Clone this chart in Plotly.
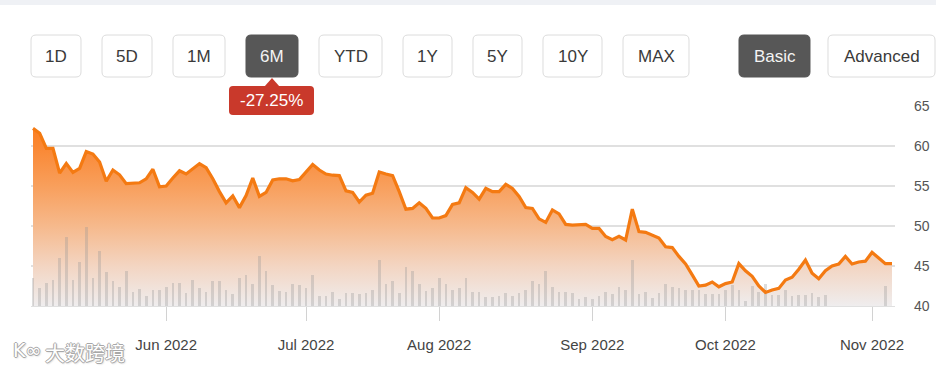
import plotly.graph_objects as go
import pandas as pd

# ---------------- data ----------------
holidays = ["2022-05-30", "2022-06-20", "2022-07-04", "2022-09-05"]
dates = [d for d in pd.bdate_range("2022-05-03", "2022-11-04")
         if d.strftime("%Y-%m-%d") not in holidays]

close = [
    62.2, 61.6, 59.7, 59.7, 56.6, 57.8, 56.7, 57.2, 59.3, 59.0,
    58.0, 55.6, 57.0, 56.4, 55.3, 55.3, 55.4, 55.9, 57.1, 54.9,
    55.0, 56.0, 56.9, 56.5, 57.2, 57.8, 57.3, 55.9, 54.3, 52.9,
    53.75, 52.3, 53.8, 56.0, 53.7, 54.2, 55.75, 55.9, 55.9, 55.65,
    55.8, 56.8, 57.7, 57.0, 56.5, 56.35, 56.3, 54.4, 54.2, 53.0,
    53.85, 54.1, 56.75, 56.5, 56.3, 54.3, 52.1, 52.2, 52.9, 52.2,
    51.0, 51.0, 51.3, 52.7, 52.9, 54.8, 54.2, 53.35, 54.7, 54.3,
    54.3, 55.2, 54.7, 53.7, 52.3, 52.2, 50.9, 50.45, 52.0, 51.5,
    50.2, 50.1, 50.1, 50.2, 49.7, 49.7, 48.7, 48.3, 48.7, 48.25,
    52.1, 49.3, 49.2, 48.9, 48.5, 47.4, 47.3, 46.2, 45.25, 43.9,
    42.5, 42.6, 43.0, 42.4, 42.8, 43.0, 45.3, 44.4, 43.7, 42.5,
    41.7, 42.0, 42.2, 43.25, 43.6, 44.6, 45.75, 44.1, 43.4, 44.4,
    45.0, 45.25, 46.2, 45.25, 45.5, 45.6, 46.7, 46.0, 45.3, 45.3,
]

# volume (millions of shares); None = no volume reported
volume = [
    2.8, 1.8, 2.3, 2.6, 4.8, 6.9, 2.6, 4.4, 7.9, 2.8,
    5.5, 3.4, 2.5, 1.9, 3.5, 1.4, 1.7, 1.0, 1.6, 1.6,
    1.9, 2.3, 2.3, 1.3, 2.6, 1.8, 1.4, 2.5, 2.5, 1.6,
    1.2, 2.8, 3.1, 2.2, 5.0, 3.5, 2.1, 1.5, 1.4, 2.2,
    2.1, 1.8, 3.1, 1.0, 1.0, 1.4, 0.7, 1.3, 1.3, 1.2,
    1.3, 1.6, 4.6, 2.2, 2.5, 1.3, 3.9, 3.5, 2.2, 1.5,
    1.8, 2.8, 2.2, 1.6, 1.8, 2.8, 1.4, 1.4, 0.9, 0.9,
    1.0, 1.3, 1.0, 1.3, 1.6, 2.5, 2.2, 3.5, 1.9, 1.4,
    1.4, 1.3, 0.7, 0.9, 0.7, 1.0, 1.4, 1.2, 1.9, 1.6,
    4.6, 1.2, 1.4, 0.8, 1.3, 2.2, 1.9, 1.8, 1.6, 1.6,
    1.6, 1.2, 1.2, 1.2, 1.6, 2.1, 1.6, 0.5, 2.0, 1.4,
    2.2, 1.1, 1.1, 1.6, 1.0, 1.1, 1.1, 1.3, 0.9, 1.1,
    None, None, None, None, None, None, None, None, 2.0, None,
]

month_starts = ["2022-06-01", "2022-07-01", "2022-08-01", "2022-09-01", "2022-10-01", "2022-11-01"]
month_labels = ["Jun 2022", "Jul 2022", "Aug 2022", "Sep 2022", "Oct 2022", "Nov 2022"]
price_ticks = [40, 45, 50, 55, 60, 65]
range_buttons = ["1D", "5D", "1M", "6M", "YTD", "1Y", "5Y", "10Y", "MAX"]
mode_buttons = ["Basic", "Advanced"]
active = {"6M", "Basic"}
change_label = "-27.25%"

# ---------------- layout constants ----------------
W, H = 936, 375
PL, PR, PT, PB = 31, 895, 106, 306   # plot area in pixels
FONT = "Liberation Sans, Arial, sans-serif"

idx = list(range(len(dates)))
tick_pos = []
for ms in month_starts:
    m = pd.Timestamp(ms)
    tick_pos.append(max(i for i, d in enumerate(dates) if d <= m))


def px(x):
    return (x - PL) / (PR - PL)


def py(y):
    return (PB - y) / (PB - PT)


def rrect(x0, y0, x1, y1, r):
    pts = [
        ("M", [(x0 + r, y0)]), ("L", [(x1 - r, y0)]), ("Q", [(x1, y0), (x1, y0 + r)]),
        ("L", [(x1, y1 - r)]), ("Q", [(x1, y1), (x1 - r, y1)]),
        ("L", [(x0 + r, y1)]), ("Q", [(x0, y1), (x0, y1 - r)]),
        ("L", [(x0, y0 + r)]), ("Q", [(x0, y0), (x0 + r, y0)]),
    ]
    s = ""
    for cmd, pp in pts:
        s += cmd + " " + " ".join(f"{px(a):.5f},{py(b):.5f}" for a, b in pp) + " "
    return s + "Z"


fig = go.Figure()

fig.add_trace(go.Scatter(
    x=idx, y=close, mode="lines", line=dict(width=0), fill="tozeroy",
    fillgradient=dict(type="vertical", start=40, stop=63, colorscale=[
        [0.0, "#efedee"], [0.217, "#f3d5c2"], [0.435, "#f6b98c"],
        [0.652, "#f89f5c"], [0.87, "#fa8732"], [1.0, "#fb7c1c"]]),
    hoverinfo="skip", showlegend=False, yaxis="y"))

fig.add_trace(go.Bar(
    x=idx, y=volume, width=0.4, yaxis="y2",
    marker=dict(color="rgba(150,150,150,0.32)", line=dict(width=0)),
    hoverinfo="skip", showlegend=False))

fig.add_trace(go.Scatter(
    x=idx, y=close, mode="lines", line=dict(color="#f47a12", width=3.2),
    yaxis="y3", hoverinfo="skip", showlegend=False))

shapes = []
annotations = []

# top strip
shapes.append(dict(type="rect", xref="paper", yref="paper", x0=px(0), x1=px(W),
                   y0=py(0), y1=py(5), fillcolor="#eff1f5", line=dict(width=0)))

# buttons
btn_x = [(31, 81), (102, 152), (173, 225), (246, 298), (319, 382), (403, 452),
         (473, 522), (543, 602), (623, 689), (739, 810), (828, 935)]
for label, (x0, x1) in zip(range_buttons + mode_buttons, btn_x):
    on = label in active
    shapes.append(dict(type="path", xref="paper", yref="paper", path=rrect(x0, 35, x1, 77, 5),
                       fillcolor="#575757" if on else "#ffffff",
                       line=dict(color="#575757" if on else "#dcdcdc", width=1)))
    annotations.append(dict(text=label, xref="paper", yref="paper", x=px((x0 + x1) / 2), y=py(56.5),
                            showarrow=False, xanchor="center", yanchor="middle",
                            font=dict(family=FONT, size=17, color="#f4f4f4" if on else "#3a3a3a")))

# change badge
shapes.append(dict(type="path", xref="paper", yref="paper",
                   path=f"M {px(264.5)},{py(86.5)} L {px(272)},{py(78)} L {px(279.5)},{py(86.5)} Z",
                   fillcolor="#c9392b", line=dict(width=0)))
shapes.append(dict(type="path", xref="paper", yref="paper", path=rrect(229, 86, 314, 115, 4),
                   fillcolor="#c9392b", line=dict(width=0)))
annotations.append(dict(text=change_label, xref="paper", yref="paper", x=px(271.5), y=py(100.5),
                        showarrow=False, xanchor="center", yanchor="middle",
                        font=dict(family=FONT, size=17, color="#ffffff")))

# watermark
wm_shadow = ("1px 0px 0px #a8a8a8, -1px 0px 0px #a8a8a8, 0px 1px 0px #a8a8a8, "
             "0px -1px 0px #a8a8a8, 1px 1px 2px #b8b8b8")
annotations.append(dict(text="大数跨境", xref="paper", yref="paper", x=px(85), y=py(352),
                        showarrow=False, xanchor="center", yanchor="middle",
                        font=dict(family="Noto Sans CJK SC", size=20, color="#ffffff", shadow=wm_shadow)))
annotations.append(dict(text="K∞", xref="paper", yref="paper", x=px(27), y=py(350),
                        showarrow=False, xanchor="center", yanchor="middle",
                        font=dict(family="DejaVu Sans", size=19, color="#ffffff", shadow=wm_shadow)))

fig.update_layout(
    width=W, height=H,
    margin=dict(l=PL, r=W - PR, t=PT, b=H - PB, pad=0, autoexpand=False),
    paper_bgcolor="#ffffff", plot_bgcolor="#ffffff",
    showlegend=False, bargap=0,
    font=dict(family=FONT),
    xaxis=dict(range=[-0.3, 129.45], tickvals=tick_pos, ticktext=month_labels,
               ticks="outside", ticklen=14, tickwidth=1, tickcolor="#d2d2d2",
               showgrid=False, zeroline=False, showline=True, linecolor="#e0e0e0",
               tickfont=dict(size=15, color="#444444"), ticklabelstandoff=11,
               automargin=False, fixedrange=True),
    yaxis=dict(range=[40, 65], side="right", tickvals=price_ticks, showgrid=True,
               gridcolor="#e0e0e0", gridwidth=1.5, zeroline=False, showline=False, ticks="",
               tickfont=dict(size=14, color="#555555"), ticklabelstandoff=18,
               automargin=False, fixedrange=True),
    yaxis2=dict(range=[0, 20], overlaying="y", visible=False, fixedrange=True),
    yaxis3=dict(range=[40, 65], overlaying="y", visible=False, fixedrange=True),
    shapes=shapes, annotations=annotations,
)

fig.write_html("out.html", config={"displayModeBar": False})
